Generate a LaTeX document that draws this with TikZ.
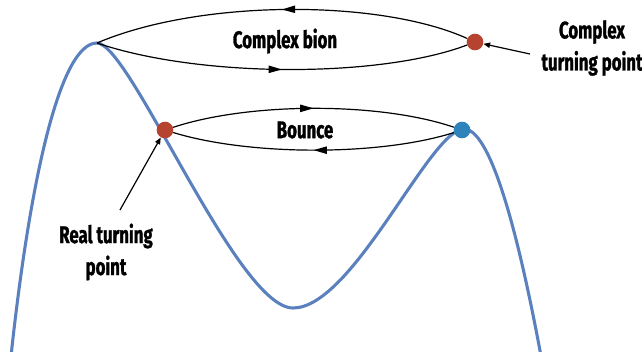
\documentclass[tikz,border=0pt]{standalone}
\usepackage{fontspec}
\setmainfont{Fira Sans}[FakeStretch=0.7,BoldFeatures={FakeBold=1.2}]
\usetikzlibrary{arrows.meta,decorations.markings}
\definecolor{curveblue}{HTML}{5A80BE}
\definecolor{dotred}{HTML}{B5432F}
\definecolor{dotblue}{HTML}{2E84BA}
\tikzset{
  potential/.style={draw=curveblue,line width=2.3pt},
  reddot/.style={circle,fill=dotred,inner sep=0pt,minimum size=12.5pt},
  bluedot/.style={circle,fill=dotblue,inner sep=0pt,minimum size=12.5pt},
  orbit/.style={draw=black,line width=0.9pt,postaction={decorate},
    decoration={markings,mark=at position 0.5 with {\arrow{Triangle[length=10pt,width=5.5pt]}}}},
  pointer/.style={draw=black,line width=0.9pt,-{Triangle[length=5pt,width=4pt]}},
  lbl/.style={font=\bfseries\fontsize{18}{24}\selectfont,align=center,inner sep=0pt}
}
\begin{document}
\begin{tikzpicture}[x=0.75pt,y=-0.75pt]
\path[use as bounding box] (0,0) rectangle (642,351);
% potential curve
\draw[potential] (11,356) .. controls (30,180) and (60,43) .. (97,43)
  .. controls (130,43) and (237,308) .. (293,308)
  .. controls (353,308) and (430,129) .. (464,129)
  .. controls (495,129) and (525,270) .. (541,356);
% points
\coordinate (lpeak) at (97,43);
\node[reddot] (ctp) at (475,42) {};
\node[reddot] (rtp) at (165,130) {};
\node[bluedot] (btp) at (462,130) {};
% complex bion orbits
\draw[orbit] (ctp) .. controls (380,-1) and (200,-1) .. (lpeak);
\draw[orbit] (lpeak) .. controls (200,78) and (380,78) .. (ctp);
% bounce orbits
\draw[orbit] (rtp) .. controls (250,102) and (380,102) .. (btp);
\draw[orbit] (btp) .. controls (380,156) and (250,156) .. (rtp);
% labels
\node[lbl] (lbion) at (285,41) {Complex bion};
\node[lbl] (lbounce) at (305,130) {Bounce};
\node[lbl] (lctp) at (592,48) {Complex\\turning point};
\node[lbl] (lrtp) at (106,252) {Real turning\\point};
% pointers
\coordinate (ctpfrom) at (530,54);
\coordinate (rtpfrom) at (120,210);
\draw[pointer] (ctpfrom) -- (ctp);
\draw[pointer] (rtpfrom) -- (rtp);
\end{tikzpicture}
\end{document}
